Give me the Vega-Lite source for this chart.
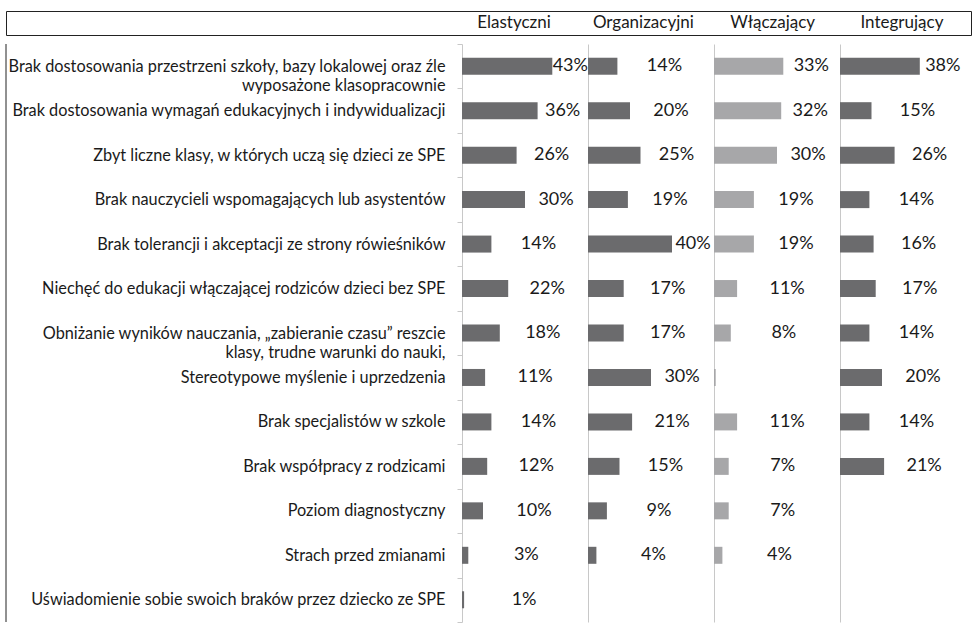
{
  "$schema": "https://vega.github.io/schema/vega-lite/v6.json",
  "padding": {"left": 5, "top": 10, "right": 0, "bottom": 0},
  "config": {"view": {"stroke": null}},
  "spacing": 0,
  "data": {"values": [
    {"c": "Brak dostosowania przestrzeni szkoły, bazy lokalowej oraz źle wyposażone klasopracownie", "g": "Elastyczni", "v": 0.43},
    {"c": "Brak dostosowania przestrzeni szkoły, bazy lokalowej oraz źle wyposażone klasopracownie", "g": "Organizacyjni", "v": 0.14},
    {"c": "Brak dostosowania przestrzeni szkoły, bazy lokalowej oraz źle wyposażone klasopracownie", "g": "Włączający", "v": 0.33},
    {"c": "Brak dostosowania przestrzeni szkoły, bazy lokalowej oraz źle wyposażone klasopracownie", "g": "Integrujący", "v": 0.38},
    {"c": "Brak dostosowania wymagań edukacyjnych i indywidualizacji", "g": "Elastyczni", "v": 0.36},
    {"c": "Brak dostosowania wymagań edukacyjnych i indywidualizacji", "g": "Organizacyjni", "v": 0.20},
    {"c": "Brak dostosowania wymagań edukacyjnych i indywidualizacji", "g": "Włączający", "v": 0.32},
    {"c": "Brak dostosowania wymagań edukacyjnych i indywidualizacji", "g": "Integrujący", "v": 0.15},
    {"c": "Zbyt liczne klasy, w których uczą się dzieci ze SPE", "g": "Elastyczni", "v": 0.26},
    {"c": "Zbyt liczne klasy, w których uczą się dzieci ze SPE", "g": "Organizacyjni", "v": 0.25},
    {"c": "Zbyt liczne klasy, w których uczą się dzieci ze SPE", "g": "Włączający", "v": 0.30},
    {"c": "Zbyt liczne klasy, w których uczą się dzieci ze SPE", "g": "Integrujący", "v": 0.26},
    {"c": "Brak nauczycieli wspomagających lub asystentów", "g": "Elastyczni", "v": 0.30},
    {"c": "Brak nauczycieli wspomagających lub asystentów", "g": "Organizacyjni", "v": 0.19},
    {"c": "Brak nauczycieli wspomagających lub asystentów", "g": "Włączający", "v": 0.19},
    {"c": "Brak nauczycieli wspomagających lub asystentów", "g": "Integrujący", "v": 0.14},
    {"c": "Brak tolerancji i akceptacji ze strony rówieśników", "g": "Elastyczni", "v": 0.14},
    {"c": "Brak tolerancji i akceptacji ze strony rówieśników", "g": "Organizacyjni", "v": 0.40},
    {"c": "Brak tolerancji i akceptacji ze strony rówieśników", "g": "Włączający", "v": 0.19},
    {"c": "Brak tolerancji i akceptacji ze strony rówieśników", "g": "Integrujący", "v": 0.16},
    {"c": "Niechęć do edukacji włączającej rodziców dzieci bez SPE", "g": "Elastyczni", "v": 0.22},
    {"c": "Niechęć do edukacji włączającej rodziców dzieci bez SPE", "g": "Organizacyjni", "v": 0.17},
    {"c": "Niechęć do edukacji włączającej rodziców dzieci bez SPE", "g": "Włączający", "v": 0.11},
    {"c": "Niechęć do edukacji włączającej rodziców dzieci bez SPE", "g": "Integrujący", "v": 0.17},
    {"c": "Obniżanie wyników nauczania, „zabieranie czasu” reszcie klasy, trudne warunki do nauki,", "g": "Elastyczni", "v": 0.18},
    {"c": "Obniżanie wyników nauczania, „zabieranie czasu” reszcie klasy, trudne warunki do nauki,", "g": "Organizacyjni", "v": 0.17},
    {"c": "Obniżanie wyników nauczania, „zabieranie czasu” reszcie klasy, trudne warunki do nauki,", "g": "Włączający", "v": 0.08},
    {"c": "Obniżanie wyników nauczania, „zabieranie czasu” reszcie klasy, trudne warunki do nauki,", "g": "Integrujący", "v": 0.14},
    {"c": "Stereotypowe myślenie i uprzedzenia", "g": "Elastyczni", "v": 0.11},
    {"c": "Stereotypowe myślenie i uprzedzenia", "g": "Organizacyjni", "v": 0.30},
    {"c": "Stereotypowe myślenie i uprzedzenia", "g": "Włączający", "v": 0.008},
    {"c": "Stereotypowe myślenie i uprzedzenia", "g": "Integrujący", "v": 0.20},
    {"c": "Brak specjalistów w szkole", "g": "Elastyczni", "v": 0.14},
    {"c": "Brak specjalistów w szkole", "g": "Organizacyjni", "v": 0.21},
    {"c": "Brak specjalistów w szkole", "g": "Włączający", "v": 0.11},
    {"c": "Brak specjalistów w szkole", "g": "Integrujący", "v": 0.14},
    {"c": "Brak współpracy z rodzicami", "g": "Elastyczni", "v": 0.12},
    {"c": "Brak współpracy z rodzicami", "g": "Organizacyjni", "v": 0.15},
    {"c": "Brak współpracy z rodzicami", "g": "Włączający", "v": 0.07},
    {"c": "Brak współpracy z rodzicami", "g": "Integrujący", "v": 0.21},
    {"c": "Poziom diagnostyczny", "g": "Elastyczni", "v": 0.10},
    {"c": "Poziom diagnostyczny", "g": "Organizacyjni", "v": 0.09},
    {"c": "Poziom diagnostyczny", "g": "Włączający", "v": 0.07},
    {"c": "Strach przed zmianami", "g": "Elastyczni", "v": 0.03},
    {"c": "Strach przed zmianami", "g": "Organizacyjni", "v": 0.04},
    {"c": "Strach przed zmianami", "g": "Włączający", "v": 0.04},
    {"c": "Uświadomienie sobie swoich braków przez dziecko ze SPE", "g": "Elastyczni", "v": 0.01}
  ]},
  "vconcat": [
    {
      "width": 965,
      "height": 24,
      "view": {"stroke": "#222222", "strokeWidth": 1},
      "transform": [{"aggregate": [{"op": "count", "as": "n"}], "groupby": ["g"]}],
      "mark": {"type": "text", "font": "Lato", "fontSize": 17, "color": "#1a1a1a", "baseline": "middle", "align": "center"},
      "encoding": {
        "x": {"field": "g", "type": "nominal", "axis": null,
              "scale": {"type": "band", "domain": ["Elastyczni", "Organizacyjni", "Włączający", "Integrujący"], "range": [443.4, 960.6], "paddingInner": 0, "paddingOuter": 0}},
        "text": {"field": "g"}
      }
    },
    {
      "spacing": 0,
      "bounds": "flush",
      "hconcat": [
        {
          "width": 456, "height": 578,
          "transform": [{"aggregate": [{"op": "count", "as": "n"}]}],
          "mark": {"type": "rule", "color": "#222222", "strokeWidth": 1},
          "encoding": {"x": {"datum": 0, "type": "quantitative", "scale": {"domain": [0, 1]}, "axis": null}}
        },
        {
          "width": 126, "height": 578,
          "transform": [{"filter": "datum.g === 'Elastyczni'"}],
          "resolve": {"scale": {"x": "independent"}},
          "layer": [
            {
              "mark": {"type": "bar", "color": "#6b6b6d", "height": 17},
              "encoding": {
                "x": {"field": "v", "type": "quantitative", "axis": null, "scale": {"domain": [0, 0.6]}},
                "y": {"field": "c", "type": "nominal", "sort": null,
                      "scale": {"type": "band", "domain": ["Brak dostosowania przestrzeni szkoły, bazy lokalowej oraz źle wyposażone klasopracownie", "Brak dostosowania wymagań edukacyjnych i indywidualizacji", "Zbyt liczne klasy, w których uczą się dzieci ze SPE", "Brak nauczycieli wspomagających lub asystentów", "Brak tolerancji i akceptacji ze strony rówieśników", "Niechęć do edukacji włączającej rodziców dzieci bez SPE", "Obniżanie wyników nauczania, „zabieranie czasu” reszcie klasy, trudne warunki do nauki,", "Stereotypowe myślenie i uprzedzenia", "Brak specjalistów w szkole", "Brak współpracy z rodzicami", "Poziom diagnostyczny", "Strach przed zmianami", "Uświadomienie sobie swoich braków przez dziecko ze SPE"], "paddingInner": 0, "paddingOuter": 0},
                      "axis": {
                        "orient": "left", "title": null,
                        "domainColor": "#c8c8c8", "tickColor": "#c8c8c8", "tickSize": 5, "tickBand": "extent",
                        "labelFont": "Lato", "labelFontSize": 16.3, "labelColor": "#1a1a1a", "labelLimit": 500,
                        "labelOverlap": false, "labelLineHeight": 19, "labelPadding": 12,
                        "labelExpr": "datum.label == 'Brak dostosowania przestrzeni szkoły, bazy lokalowej oraz źle wyposażone klasopracownie' ? ['Brak dostosowania przestrzeni szkoły, bazy lokalowej oraz źle', 'wyposażone klasopracownie\u2003\u2003\u2003\u2003\u2003\u2003\u2003'] : (datum.label == 'Obniżanie wyników nauczania, „zabieranie czasu” reszcie klasy, trudne warunki do nauki,' ? ['Obniżanie wyników nauczania, „zabieranie czasu” reszcie\u2006\u2006', 'klasy, trudne warunki do nauki,\u2003\u2003\u2003\u2003\u2002\u2005'] : datum.label)"
                      }}
              }
            },
            {
              "transform": [{"filter": "datum.v >= 0.01"}],
              "mark": {"type": "text", "font": "Lato", "fontSize": 18, "color": "#1a1a1a", "align": "center", "baseline": "middle"},
              "encoding": {
                "x": {"field": "v", "type": "quantitative", "axis": null, "scale": {"domain": [-0.5545, 0.5905], "zero": false}},
                "y": {"field": "c", "type": "nominal", "sort": null},
                "text": {"field": "v", "type": "quantitative", "format": ".0%"}
              }
            }
          ]
        },
        {
          "width": 126, "height": 578,
          "transform": [{"filter": "datum.g === 'Organizacyjni'"}],
          "resolve": {"scale": {"x": "independent"}},
          "layer": [
            {
              "mark": {"type": "bar", "color": "#6b6b6d", "height": 17},
              "encoding": {
                "x": {"field": "v", "type": "quantitative", "axis": null, "scale": {"domain": [0, 0.6]}},
                "y": {"field": "c", "type": "nominal", "sort": null,
                      "scale": {"type": "band", "domain": ["Brak dostosowania przestrzeni szkoły, bazy lokalowej oraz źle wyposażone klasopracownie", "Brak dostosowania wymagań edukacyjnych i indywidualizacji", "Zbyt liczne klasy, w których uczą się dzieci ze SPE", "Brak nauczycieli wspomagających lub asystentów", "Brak tolerancji i akceptacji ze strony rówieśników", "Niechęć do edukacji włączającej rodziców dzieci bez SPE", "Obniżanie wyników nauczania, „zabieranie czasu” reszcie klasy, trudne warunki do nauki,", "Stereotypowe myślenie i uprzedzenia", "Brak specjalistów w szkole", "Brak współpracy z rodzicami", "Poziom diagnostyczny", "Strach przed zmianami", "Uświadomienie sobie swoich braków przez dziecko ze SPE"], "paddingInner": 0, "paddingOuter": 0},
                      "axis": {"orient": "left", "title": null, "domainColor": "#c8c8c8", "ticks": false, "labels": false}}
              }
            },
            {
              "transform": [{"filter": "datum.v >= 0.01"}],
              "mark": {"type": "text", "font": "Lato", "fontSize": 18, "color": "#1a1a1a", "align": "center", "baseline": "middle"},
              "encoding": {
                "x": {"field": "v", "type": "quantitative", "axis": null, "scale": {"domain": [-0.5545, 0.5905], "zero": false}},
                "y": {"field": "c", "type": "nominal", "sort": null},
                "text": {"field": "v", "type": "quantitative", "format": ".0%"}
              }
            }
          ]
        },
        {
          "width": 126, "height": 578,
          "transform": [{"filter": "datum.g === 'Włączający'"}],
          "resolve": {"scale": {"x": "independent"}},
          "layer": [
            {
              "mark": {"type": "bar", "color": "#a7a7a9", "height": 17},
              "encoding": {
                "x": {"field": "v", "type": "quantitative", "axis": null, "scale": {"domain": [0, 0.6]}},
                "y": {"field": "c", "type": "nominal", "sort": null,
                      "scale": {"type": "band", "domain": ["Brak dostosowania przestrzeni szkoły, bazy lokalowej oraz źle wyposażone klasopracownie", "Brak dostosowania wymagań edukacyjnych i indywidualizacji", "Zbyt liczne klasy, w których uczą się dzieci ze SPE", "Brak nauczycieli wspomagających lub asystentów", "Brak tolerancji i akceptacji ze strony rówieśników", "Niechęć do edukacji włączającej rodziców dzieci bez SPE", "Obniżanie wyników nauczania, „zabieranie czasu” reszcie klasy, trudne warunki do nauki,", "Stereotypowe myślenie i uprzedzenia", "Brak specjalistów w szkole", "Brak współpracy z rodzicami", "Poziom diagnostyczny", "Strach przed zmianami", "Uświadomienie sobie swoich braków przez dziecko ze SPE"], "paddingInner": 0, "paddingOuter": 0},
                      "axis": {"orient": "left", "title": null, "domainColor": "#c8c8c8", "ticks": false, "labels": false}}
              }
            },
            {
              "transform": [{"filter": "datum.v >= 0.01"}],
              "mark": {"type": "text", "font": "Lato", "fontSize": 18, "color": "#1a1a1a", "align": "center", "baseline": "middle"},
              "encoding": {
                "x": {"field": "v", "type": "quantitative", "axis": null, "scale": {"domain": [-0.5545, 0.5905], "zero": false}},
                "y": {"field": "c", "type": "nominal", "sort": null},
                "text": {"field": "v", "type": "quantitative", "format": ".0%"}
              }
            }
          ]
        },
        {
          "width": 126, "height": 578,
          "transform": [{"filter": "datum.g === 'Integrujący'"}],
          "resolve": {"scale": {"x": "independent"}},
          "layer": [
            {
              "mark": {"type": "bar", "color": "#6b6b6d", "height": 17},
              "encoding": {
                "x": {"field": "v", "type": "quantitative", "axis": null, "scale": {"domain": [0, 0.6]}},
                "y": {"field": "c", "type": "nominal", "sort": null,
                      "scale": {"type": "band", "domain": ["Brak dostosowania przestrzeni szkoły, bazy lokalowej oraz źle wyposażone klasopracownie", "Brak dostosowania wymagań edukacyjnych i indywidualizacji", "Zbyt liczne klasy, w których uczą się dzieci ze SPE", "Brak nauczycieli wspomagających lub asystentów", "Brak tolerancji i akceptacji ze strony rówieśników", "Niechęć do edukacji włączającej rodziców dzieci bez SPE", "Obniżanie wyników nauczania, „zabieranie czasu” reszcie klasy, trudne warunki do nauki,", "Stereotypowe myślenie i uprzedzenia", "Brak specjalistów w szkole", "Brak współpracy z rodzicami", "Poziom diagnostyczny", "Strach przed zmianami", "Uświadomienie sobie swoich braków przez dziecko ze SPE"], "paddingInner": 0, "paddingOuter": 0},
                      "axis": {"orient": "left", "title": null, "domainColor": "#c8c8c8", "ticks": false, "labels": false}}
              }
            },
            {
              "transform": [{"filter": "datum.v >= 0.01"}],
              "mark": {"type": "text", "font": "Lato", "fontSize": 18, "color": "#1a1a1a", "align": "center", "baseline": "middle"},
              "encoding": {
                "x": {"field": "v", "type": "quantitative", "axis": null, "scale": {"domain": [-0.5545, 0.5905], "zero": false}},
                "y": {"field": "c", "type": "nominal", "sort": null},
                "text": {"field": "v", "type": "quantitative", "format": ".0%"}
              }
            }
          ]
        }
      ]
    }
  ]
}
